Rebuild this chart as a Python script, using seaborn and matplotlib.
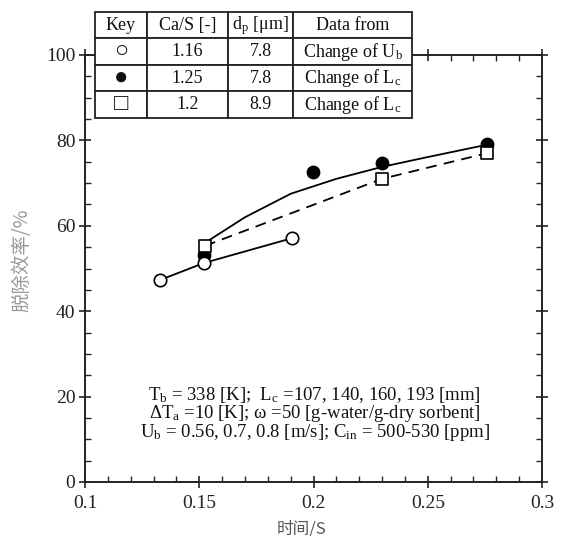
import matplotlib
matplotlib.use("Agg")
import matplotlib.pyplot as plt
from matplotlib.ticker import MultipleLocator
import seaborn as sns

# open circles: Ca/S 1.16, change of Ub
t_open = [0.1328, 0.1521, 0.1906]
eta_open = [47.3, 51.3, 57.1]

# filled circles: Ca/S 1.25, change of Lc
t_fill = [0.1521, 0.1998, 0.230, 0.2759]
eta_fill = [53.2, 72.6, 74.7, 79.2]

# fitted solid curve through the filled circles
t_fit = [0.1525, 0.17, 0.19, 0.21, 0.23, 0.25, 0.276]
eta_fit = [56.0, 62.0, 67.5, 71.0, 73.8, 76.1, 79.0]

# open squares: Ca/S 1.2, change of Lc
t_sq = [0.1525, 0.230, 0.2759]
eta_sq = [55.3, 71.0, 77.0]

table_cols = ["Key", "Ca/S [-]", r"d$_\mathrm{p}$ [μm]", "Data from"]
table_rows = [
    ["○", "1.16", "7.8", r"Change of U$_\mathrm{b}$"],
    ["●", "1.25", "7.8", r"Change of L$_\mathrm{c}$"],
    ["□", "1.2", "8.9", r"Change of L$_\mathrm{c}$"],
]

note_lines = [
    r"T$_\mathrm{b}$ = 338 [K];  L$_\mathrm{c}$ =107, 140, 160, 193 [mm]",
    r"ΔT$_\mathrm{a}$ =10 [K]; ω =50 [g-water/g-dry sorbent]",
    r"U$_\mathrm{b}$ = 0.56, 0.7, 0.8 [m/s]; C$_\mathrm{in}$ = 500-530 [ppm]",
]

sns.set_theme(style="ticks")
plt.rcParams["font.family"] = ["Liberation Serif", "DejaVu Sans"]
plt.rcParams["mathtext.fontset"] = "custom"
plt.rcParams["mathtext.rm"] = "Liberation Serif"
plt.rcParams["mathtext.it"] = "Liberation Serif:italic"

fig = plt.figure(figsize=(5.62, 5.36), dpi=100)
ax = fig.add_axes([85 / 562, 54 / 536, 457 / 562, 427 / 536])

line_kw = dict(color="black", linewidth=1.3, ax=ax, legend=False)
sns.lineplot(x=t_open, y=eta_open, **line_kw)
sns.lineplot(x=t_fit, y=eta_fit, **line_kw)
sns.lineplot(x=t_sq, y=eta_sq, linestyle=(0, (6, 4)), **line_kw)

sns.scatterplot(x=t_fill, y=eta_fill, marker="o", s=80, color="black",
                edgecolor="black", linewidth=1, ax=ax, zorder=3)
sns.scatterplot(x=t_open, y=eta_open, marker="o", s=80, color="white",
                edgecolor="black", linewidth=1.2, ax=ax, zorder=4)
sns.scatterplot(x=t_sq, y=eta_sq, marker="s", s=85, color="white",
                edgecolor="black", linewidth=1.2, ax=ax, zorder=4)

ax.set_xlim(0.1, 0.3)
ax.set_ylim(0, 100)
ax.yaxis.set_major_locator(MultipleLocator(20))
ax.yaxis.set_minor_locator(MultipleLocator(5))
ax.xaxis.set_minor_locator(MultipleLocator(0.01))
ax.set_xticks([0.1, 0.15, 0.2, 0.25, 0.3])
ax.set_xticklabels(["0.1", "0.15", "0.2", "0.25", "0.3"])
ax.tick_params(which="major", direction="inout", length=8, width=1.2,
               top=True, right=True, labelsize=14, colors="#222222", pad=3)
ax.tick_params(which="minor", direction="in", length=4, width=1,
               top=True, right=True)
ax.tick_params(axis="x", which="major", pad=5)
for sp in ax.spines.values():
    sp.set_linewidth(1.4)
    sp.set_color("#222222")

ax.set_xlabel("时间/S", family=["Noto Sans CJK SC"], fontsize=12, color="#555555")
ax.set_ylabel("脱除效率/%", family=["Noto Sans CJK SC"], fontsize=14, color="#999999")
ax.xaxis.set_label_coords((302 - 85) / 457, (482 - 520) / 427)
ax.yaxis.set_label_coords((32 - 85) / 457, (482 - 260) / 427)

for i, line in enumerate(note_lines):
    ax.text(0.503, 0.204 - i * 0.0445, line, transform=ax.transAxes,
            ha="center", va="center", fontsize=13.5, color="#111111")

tbl = ax.table(cellText=table_rows, colLabels=table_cols, cellLoc="center",
               colWidths=[52, 81, 65, 119],
               bbox=[(95 - 85) / 457, (482 - 118) / 427, 317 / 457, 106 / 427])
tbl.auto_set_font_size(False)
tbl.set_fontsize(13)
tbl.set_clip_on(False)
tbl.set_zorder(10)
for (r, c), cell in tbl.get_celld().items():
    cell.set_linewidth(1.3)
    cell.set_edgecolor("#222222")
    cell.set_facecolor("white")
    cell.get_text().set_color("#111111")
    if c == 0 and r > 0:
        cell.get_text().set_fontsize(17)

fig.savefig("out.png", dpi=100)
